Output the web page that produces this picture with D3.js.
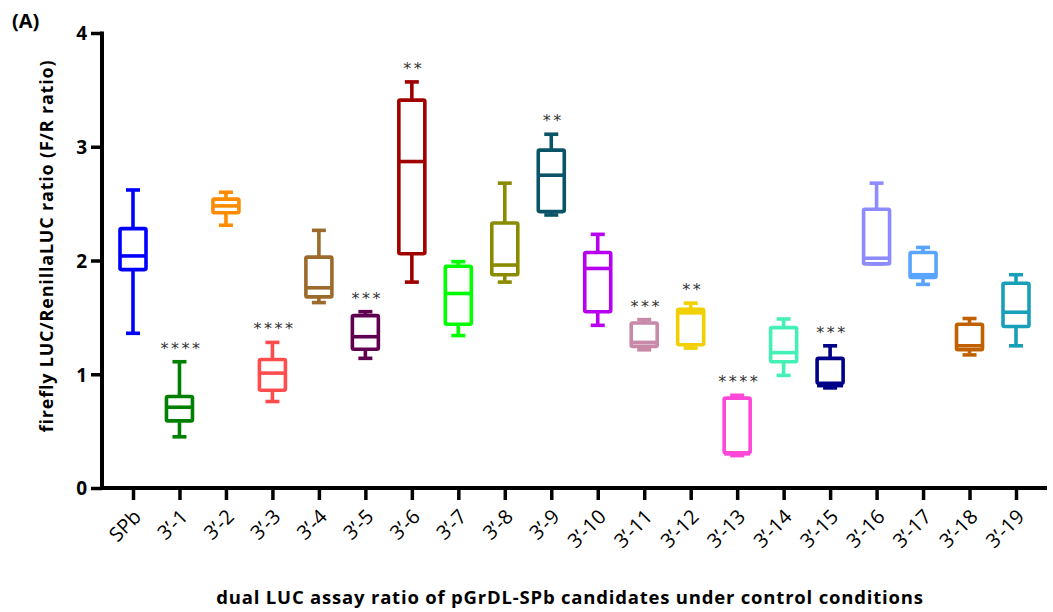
<!DOCTYPE html>
<html>
<head>
<meta charset="utf-8">
<script src="https://cdn.jsdelivr.net/npm/d3@7"></script>
<style>
  html, body { margin: 0; padding: 0; background: #fff; }
  svg { display: block; font-family: "Open Sans", "DejaVu Sans", sans-serif; }
</style>
</head>
<body>
<svg id="chart"></svg>
<script>
// candidates on the x axis
const categories = ['SPb', "3\u2019-1", "3\u2019-2", "3\u2019-3", "3\u2019-4", "3\u2019-5", "3\u2019-6", "3\u2019-7", "3\u2019-8", "3\u2019-9",
    "3\u2019-10", "3\u2019-11", "3\u2019-12", "3\u2019-13", "3\u2019-14", "3\u2019-15", "3\u2019-16", "3\u2019-17", "3\u2019-18", "3\u2019-19"];

// box plot statistics
const mins    = [1.36, 0.45, 2.31, 0.76, 1.63, 1.14, 1.81, 1.34, 1.81, 2.40, 1.43, 1.215, 1.23, 0.285, 0.99, 0.88, 1.97, 1.79, 1.17, 1.25];
const q1s     = [1.92, 0.59, 2.42, 0.86, 1.68, 1.22, 2.06, 1.44, 1.875, 2.43, 1.55, 1.245, 1.26, 0.31, 1.11, 0.92, 1.97, 1.85, 1.215, 1.42];
const medians = [2.04, 0.71, 2.48, 1.01, 1.76, 1.33, 2.87, 1.71, 1.96, 2.75, 1.93, 1.28, 1.54, 0.30, 1.19, 0.90, 2.02, 1.875, 1.25, 1.545];
const q3s     = [2.28, 0.805, 2.54, 1.13, 2.03, 1.515, 3.41, 1.95, 2.33, 2.97, 2.07, 1.45, 1.57, 0.79, 1.41, 1.14, 2.45, 2.07, 1.44, 1.80];
const maxs    = [2.62, 1.11, 2.60, 1.28, 2.265, 1.55, 3.57, 1.99, 2.68, 3.11, 2.23, 1.48, 1.625, 0.815, 1.486, 1.25, 2.68, 2.115, 1.49, 1.875];

// significance marks vs SPb
const stars = ['', '****', '', '****', '', '***', '**', '', '', '**', '', '***', '**', '****', '', '***', '', '', '', ''];

const colors = ['#0000ff', '#008000', '#ff8c00', '#ff4d4d', '#9c6a2a', '#600050', '#a00000', '#00ff00', '#8b8b00', '#0b5468',
    '#b800f0', '#c888a8', '#f2d000', '#ff48d8', '#44f0b4', '#000088', '#8c8cff', '#58a4ff', '#c06000', '#18a0b8'];

const yTicks = [0, 1, 2, 3, 4];

const width = 1053, height = 612;
const margin = { top: 33, right: 6, bottom: 124, left: 102 };

const svg = d3.select('#chart')
    .attr('width', width)
    .attr('height', height);

const x = d3.scalePoint()
    .domain(categories)
    .range([margin.left, width - margin.right])
    .padding(0.667);

const y = d3.scaleLinear()
    .domain([0, 4])
    .range([height - margin.bottom, margin.top]);

const data = categories.map((c, i) => ({
    name: c, min: mins[i], q1: q1s[i], median: medians[i], q3: q3s[i], max: maxs[i],
    stars: stars[i], color: colors[i]
}));

const boxW = 26, capW = 14, lw = 3.6;

// boxes
const g = svg.append('g')
    .selectAll('g')
    .data(data)
    .enter()
    .append('g')
    .attr('transform', (d) => `translate(${x(d.name)},0)`)
    .style('stroke', (d) => d.color)
    .style('stroke-width', lw)
    .style('fill', 'none');

// whiskers
g.append('line')
    .attr('x1', 0).attr('x2', 0)
    .attr('y1', (d) => y(d.max)).attr('y2', (d) => y(d.q3));
g.append('line')
    .attr('x1', 0).attr('x2', 0)
    .attr('y1', (d) => y(d.q1)).attr('y2', (d) => y(d.min));
g.append('line')
    .attr('x1', -capW / 2).attr('x2', capW / 2)
    .attr('y1', (d) => y(d.max)).attr('y2', (d) => y(d.max));
g.append('line')
    .attr('x1', -capW / 2).attr('x2', capW / 2)
    .attr('y1', (d) => y(d.min)).attr('y2', (d) => y(d.min));

g.append('rect')
    .attr('x', -boxW / 2)
    .attr('width', boxW)
    .attr('y', (d) => y(d.q3))
    .attr('height', (d) => y(d.q1) - y(d.q3))
    .attr('rx', 1.5)
    .style('fill', '#fff');

g.append('line')
    .attr('x1', -boxW / 2).attr('x2', boxW / 2)
    .attr('y1', (d) => y(d.median)).attr('y2', (d) => y(d.median));

// asterisks
svg.append('g')
    .selectAll('text')
    .data(data.filter((d) => d.stars))
    .enter()
    .append('text')
    .attr('x', (d) => x(d.name) + 2)
    .attr('y', (d) => y(d.max) - 8)
    .attr('text-anchor', 'middle')
    .style('font-family', '"DejaVu Sans", sans-serif')
    .style('font-size', '16px')
    .style('letter-spacing', '2.5px')
    .style('fill', '#333')
    .text((d) => d.stars);

// y axis
const yAxis = svg.append('g')
    .attr('transform', `translate(${margin.left},0)`)
    .call(d3.axisLeft(y).tickValues(yTicks).tickFormat(d3.format('d')).tickSize(11).tickPadding(4));
yAxis.attr('font-family', null).attr('font-size', null);
yAxis.select('.domain').attr('stroke-width', 4).attr('d', `M0,${y(4) - 1.5}V${y(0) + 2}`);
yAxis.selectAll('.tick line').attr('stroke-width', 3.5);
yAxis.selectAll('.tick text')
    .style('font-size', '19px')
    .style('font-weight', 'bold')
    .attr('dy', '0.36em')
    .style('fill', '#000');

// x axis
const xAxis = svg.append('g')
    .attr('transform', `translate(0,${y(0)})`)
    .call(d3.axisBottom(x).tickSize(12).tickSizeOuter(0));
xAxis.attr('font-family', null).attr('font-size', null);
xAxis.select('.domain').attr('stroke-width', 4).attr('d', `M${margin.left - 2},0H${width - margin.right}`);
xAxis.selectAll('.tick line').attr('stroke-width', 3.5);
xAxis.selectAll('.tick text')
    .style('font-size', '20px')
    .style('fill', '#000')
    .attr('text-anchor', 'end')
    .attr('dy', null)
    .attr('y', 0)
    .attr('transform', 'translate(9,30) rotate(-45)');

// axis titles
svg.append('text')
    .attr('transform', 'translate(53,246) rotate(-90)')
    .attr('text-anchor', 'middle')
    .style('font-size', '18px')
    .style('font-weight', 'bold')
    .style('letter-spacing', '0.8px')
    .text('firefly LUC/RenillaLUC ratio (F/R ratio)');

svg.append('text')
    .attr('x', 570)
    .attr('y', 604)
    .attr('text-anchor', 'middle')
    .style('font-size', '18.5px')
    .style('font-weight', 'bold')
    .style('letter-spacing', '0.8px')
    .text('dual LUC assay ratio of pGrDL-SPb candidates under control conditions');

svg.append('text')
    .attr('x', 12)
    .attr('y', 28)
    .style('font-size', '20px')
    .style('font-weight', 'bold')
    .text('(A)');
</script>
</body>
</html>
